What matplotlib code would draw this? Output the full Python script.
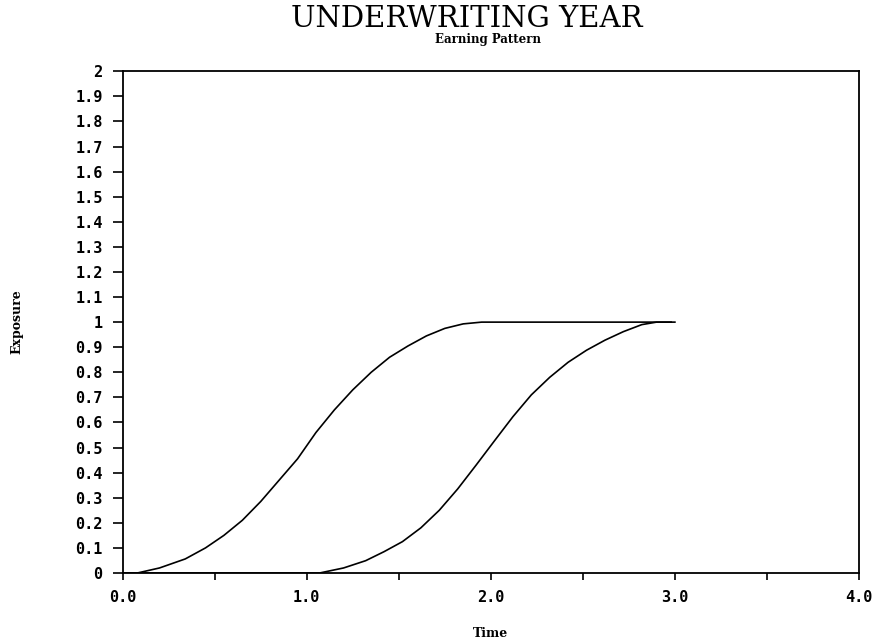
import matplotlib
matplotlib.use("Agg")
import matplotlib.pyplot as plt
from matplotlib.ticker import MultipleLocator, FixedLocator

# first underwriting year: earned exposure over time
time_1 = [0.0, 0.08, 0.20, 0.34, 0.45, 0.55, 0.65, 0.75, 0.85, 0.95, 1.05, 1.15,
          1.25, 1.35, 1.45, 1.55, 1.65, 1.75, 1.85, 1.95, 2.0, 3.0]
exposure_1 = [0.0, 0.0, 0.02, 0.056, 0.10, 0.15, 0.21, 0.285, 0.37, 0.455, 0.56, 0.65,
              0.73, 0.80, 0.86, 0.905, 0.945, 0.975, 0.993, 1.0, 1.0, 1.0]

# second underwriting year
time_2 = [0.0, 1.07, 1.20, 1.32, 1.42, 1.52, 1.62, 1.72, 1.82, 1.92, 2.02, 2.12,
          2.22, 2.32, 2.42, 2.52, 2.62, 2.72, 2.82, 2.90, 2.98]
exposure_2 = [0.0, 0.0, 0.02, 0.049, 0.085, 0.125, 0.18, 0.25, 0.335, 0.43, 0.527, 0.623,
              0.71, 0.78, 0.84, 0.888, 0.928, 0.962, 0.99, 1.0, 1.0]

y_ticks = [round(i * 0.1, 1) for i in range(21)]
y_labels = [("%.1f" % v).rstrip("0").rstrip(".") for v in y_ticks]
x_ticks = [0.0, 1.0, 2.0, 3.0, 4.0]
x_labels = ["0.0", "1.0", "2.0", "3.0", "4.0"]

tick_font = {"family": "DejaVu Sans Mono", "weight": "bold", "size": 11}
label_font = {"family": "DejaVu Serif", "weight": "bold", "size": 9}

fig = plt.figure(figsize=(8.8, 6.42), dpi=100)
ax = fig.add_axes([0.1394, 0.1075, 0.8367, 0.7815])

ax.plot(time_1, exposure_1, color="black", lw=1.2)
ax.plot(time_2, exposure_2, color="black", lw=1.2)

ax.set_xlim(0, 4)
ax.set_ylim(0, 2)
ax.yaxis.set_major_locator(FixedLocator(y_ticks))
ax.set_yticklabels(y_labels, fontdict=tick_font)
ax.xaxis.set_major_locator(FixedLocator(x_ticks))
ax.set_xticklabels(x_labels, fontdict=tick_font)
ax.xaxis.set_minor_locator(MultipleLocator(0.5))

ax.tick_params(axis="y", which="both", direction="out", length=7, width=1.2, pad=7.5)
ax.tick_params(axis="x", which="both", direction="out", length=5, width=1.2, pad=7)

for s in ax.spines.values():
    s.set_linewidth(1.3)

ax.set_xlabel("Time", fontdict=label_font, labelpad=16)
ax.set_ylabel("Exposure", fontdict=label_font, labelpad=37)

fig.text(0.531, 0.970, "UNDERWRITING YEAR", ha="center", va="center",
         family="DejaVu Serif", size=21)
fig.text(0.555, 0.939, "Earning Pattern", ha="center", va="center",
         family="DejaVu Serif", weight="bold", size=8.5)

fig.savefig("out.png", dpi=100)
